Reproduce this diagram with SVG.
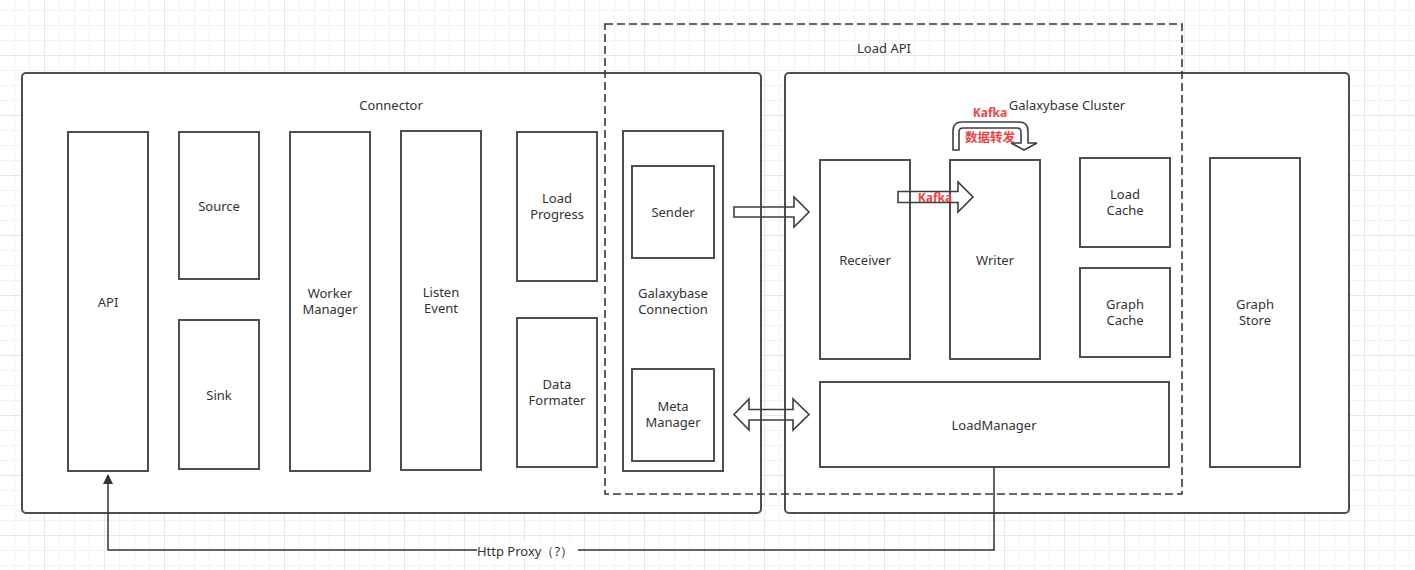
<svg xmlns="http://www.w3.org/2000/svg" width="1415" height="570" viewBox="0 0 1415 570">
<defs>
<pattern id="gmin" patternUnits="userSpaceOnUse" x="14" y="10" width="15" height="15">
<path d="M0.5,0 V15 M0,0.5 H15" stroke="#f2f2f2" stroke-width="1" fill="none"/>
</pattern>
<pattern id="gmaj" patternUnits="userSpaceOnUse" x="44" y="55" width="60" height="60">
<path d="M0.5,0 V60 M0,0.5 H60" stroke="#e8e8e8" stroke-width="1.2" fill="none"/>
</pattern>
<marker id="ah" viewBox="0 0 10 10" refX="9" refY="5" markerWidth="10" markerHeight="10" markerUnits="userSpaceOnUse" orient="auto">
<path d="M0,0 L10,5 L0,10 Z" fill="#333"/>
</marker>
<style>
.grp{fill:#fff;stroke:#4b4f55;stroke-width:2}
.box{fill:#fff;stroke:#4b4f55;stroke-width:2}
.inner{fill:none;stroke:#4b4f55;stroke-width:2}
.dash{fill:none;stroke:#33373d;stroke-width:1.6;stroke-dasharray:8 4}
.blk{fill:none;stroke:#3b3f45;stroke-width:1.6;stroke-linejoin:miter}
.t{font-family:"Noto Sans","Open Sans","Liberation Sans",sans-serif;font-size:13px;fill:#333;text-anchor:middle;dominant-baseline:central}
.r{font-family:"Noto Sans","Liberation Sans","Noto Sans CJK SC",sans-serif;font-size:12px;font-weight:bold;fill:#ea4646;text-anchor:middle;dominant-baseline:central}
.ln{fill:none;stroke:#333;stroke-width:1.5}
</style>
</defs>
<rect width="1415" height="570" fill="#fff"/>
<rect width="1415" height="570" fill="url(#gmin)"/>
<rect width="1415" height="570" fill="url(#gmaj)"/>

<g id="connector">
<rect class="grp" x="22" y="73" width="739" height="440" rx="4"/>
<text class="t" x="391" y="105">Connector</text>
</g>
<g id="galaxybase-cluster">
<rect class="grp" x="785" y="73" width="564" height="440" rx="4"/>
<text class="t" x="1067" y="105">Galaxybase Cluster</text>
</g>

<g id="api"><rect class="box" x="68" y="132" width="80" height="339"/><text class="t" x="108" y="302">API</text></g>
<g id="source"><rect class="box" x="179" y="132" width="80" height="147"/><text class="t" x="219" y="206">Source</text></g>
<g id="sink"><rect class="box" x="179" y="320" width="80" height="149"/><text class="t" x="219" y="395">Sink</text></g>
<g id="worker-manager"><rect class="box" x="290" y="132" width="80" height="339"/><text class="t" x="330" y="293">Worker</text><text class="t" x="330" y="309">Manager</text></g>
<g id="listen-event"><rect class="box" x="401" y="131" width="80" height="339"/><text class="t" x="441" y="292">Listen</text><text class="t" x="441" y="308">Event</text></g>
<g id="load-progress"><rect class="box" x="517" y="132" width="80" height="149"/><text class="t" x="557" y="198">Load</text><text class="t" x="557" y="214">Progress</text></g>
<g id="data-formater"><rect class="box" x="517" y="318" width="80" height="149"/><text class="t" x="557" y="384">Data</text><text class="t" x="557" y="400">Formater</text></g>
<g id="galaxybase-connection"><rect class="box" x="623" y="131" width="100" height="340"/><text class="t" x="673" y="293">Galaxybase</text><text class="t" x="673" y="309">Connection</text></g>
<g id="sender"><rect class="inner" x="632" y="166" width="82" height="92"/><text class="t" x="673" y="212">Sender</text></g>
<g id="meta-manager"><rect class="inner" x="632" y="369" width="82" height="92"/><text class="t" x="673" y="406">Meta</text><text class="t" x="673" y="422">Manager</text></g>

<g id="receiver"><rect class="box" x="820" y="160" width="90" height="199"/><text class="t" x="865" y="260">Receiver</text></g>
<g id="writer"><rect class="box" x="950" y="160" width="90" height="199"/><text class="t" x="995" y="260">Writer</text></g>
<g id="load-cache"><rect class="box" x="1080" y="158" width="90" height="89"/><text class="t" x="1125" y="194">Load</text><text class="t" x="1125" y="210">Cache</text></g>
<g id="graph-cache"><rect class="box" x="1080" y="268" width="90" height="89"/><text class="t" x="1125" y="304">Graph</text><text class="t" x="1125" y="320">Cache</text></g>
<g id="graph-store"><rect class="box" x="1210" y="158" width="90" height="309"/><text class="t" x="1255" y="304">Graph</text><text class="t" x="1255" y="320">Store</text></g>
<g id="loadmanager"><rect class="box" x="820" y="382" width="349" height="85"/><text class="t" x="994" y="425">LoadManager</text></g>

<g id="load-api">
<rect class="dash" x="605" y="24" width="577" height="470"/>
<text class="t" x="884" y="48">Load API</text>
</g>

<g id="connectors">
<path class="blk" d="M734,207 L794,207 L794,197 L809,212 L794,227 L794,217 L734,217 Z"/>
<path class="blk" d="M734,414.5 L749,399 L749,409.5 L793,409.5 L793,399 L809,414.5 L793,430 L793,420 L749,420 L749,430 Z"/>
<path class="blk" d="M898,191.5 L958,191.5 L958,182 L973,197 L958,212 L958,202.5 L898,202.5 Z"/>
<text class="r" x="935" y="197">Kafka</text>
<path class="blk" d="M953,150 L953,131 Q953,122 962,122 L1019,122 Q1028,122 1028,131 L1028,143 L1037,143 L1024,150 L1011,143 L1021,143 L1021,132 Q1021,128 1017,128 L963,128 Q959,128 959,132 L959,150 Z"/>
<text class="r" x="990" y="112">Kafka</text>
<text class="r" x="990" y="136" style="font-family:'Noto Sans CJK SC',sans-serif;font-size:12.5px">数据转发</text>
<path class="ln" d="M994,467 V550 H108 V475" marker-end="url(#ah)"/>
<rect x="477" y="542" width="101" height="17" fill="#fff"/>
<text class="t" x="525" y="551">Http Proxy（?）</text>
</g>
</svg>
